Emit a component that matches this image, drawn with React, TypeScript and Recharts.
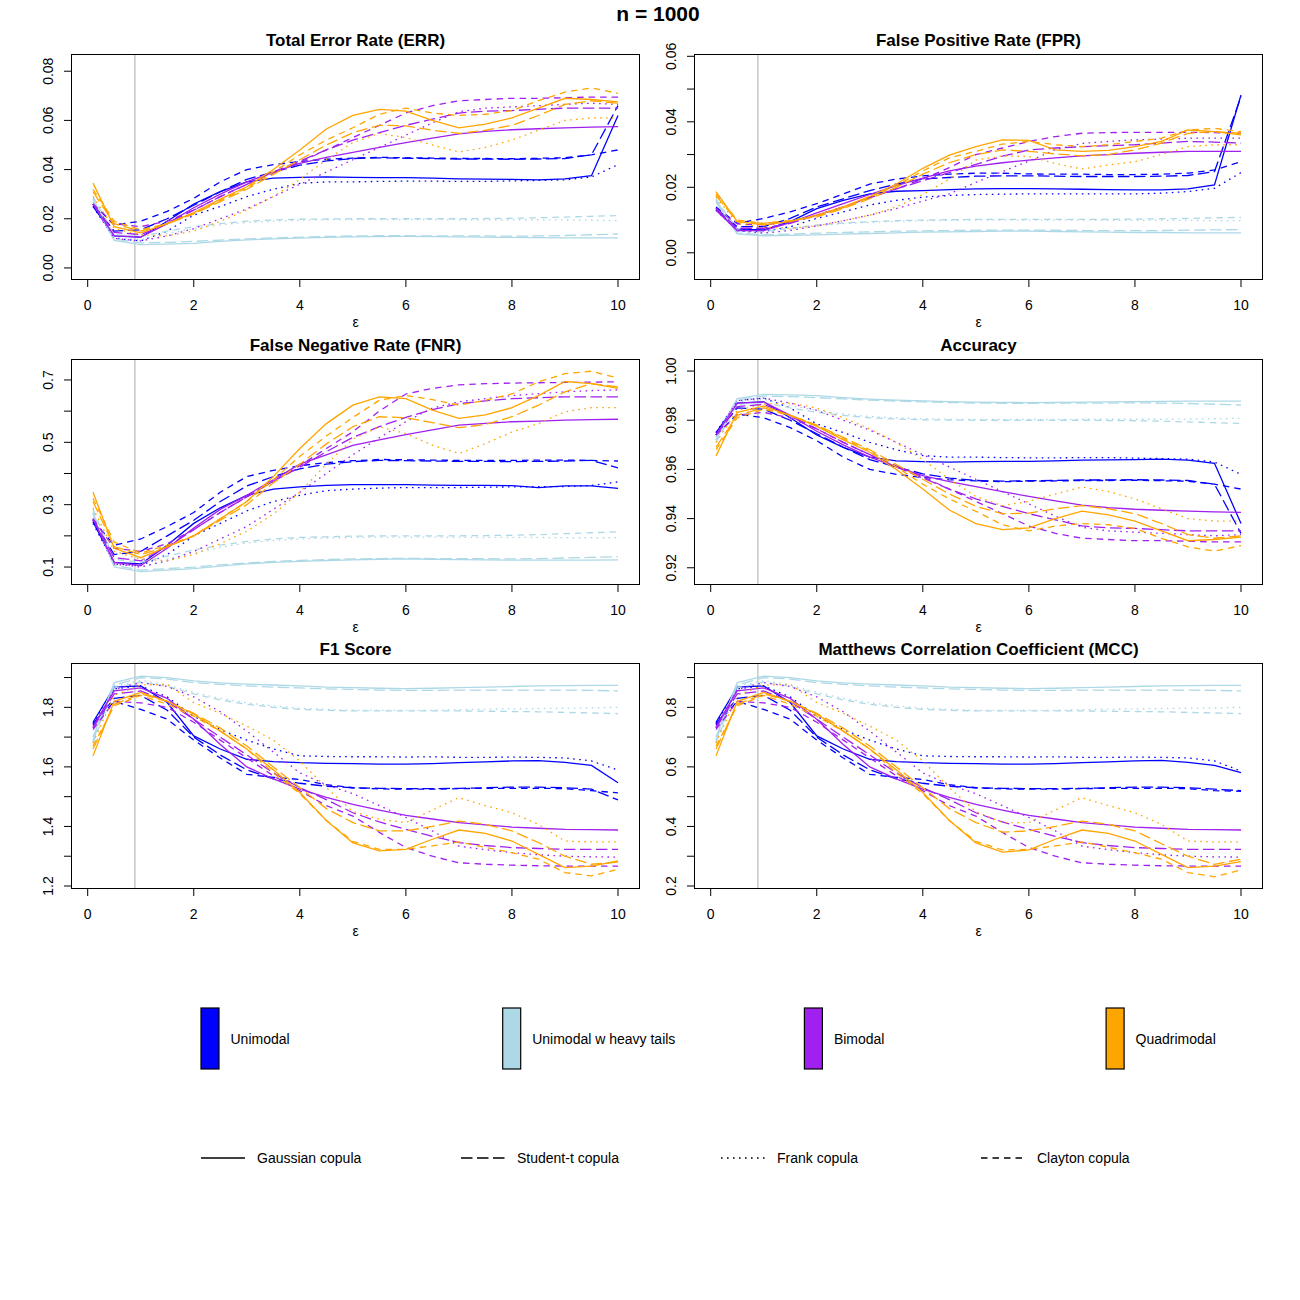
import React from 'react';
import { LineChart, Line, XAxis, YAxis, ReferenceLine } from 'recharts';

const FONT = "'Liberation Sans', Arial, Helvetica, sans-serif";

// ε grid
const EPS = [0.1, 0.5, 1, 1.5, 2, 2.5, 3, 3.5, 4, 4.5, 5, 5.5, 6, 6.5, 7, 7.5, 8, 8.5, 9, 9.5, 10];
const X_TICKS = [0, 2, 4, 6, 8, 10];
const EPS_MARK = 0.89;

const SCENARIOS = ['Unimodal', 'Unimodal w heavy tails', 'Bimodal', 'Quadrimodal'];
const SCENARIO_COLORS = ['#0000FF', '#ADD8E6', '#A020F0', '#FFA500'];
const COPULAS = ['Gaussian copula', 'Student-t copula', 'Frank copula', 'Clayton copula'];
const COPULA_DASH = ['0', '11.5 4.5', '1.6 4.4', '6.5 5'];

// ---------- Total Error Rate ----------
const ERR_U_GA = [0.025, 0.013, 0.0125, 0.019, 0.026, 0.031, 0.035, 0.0365, 0.0368, 0.037, 0.0368, 0.0367, 0.0367, 0.0365, 0.0362, 0.0361, 0.036, 0.0358, 0.0362, 0.0375, 0.062];
const ERR_U_ST = [0.026, 0.015, 0.0155, 0.02, 0.0255, 0.031, 0.036, 0.039, 0.0418, 0.0435, 0.0445, 0.0448, 0.0446, 0.0445, 0.0443, 0.0443, 0.0442, 0.0443, 0.0445, 0.046, 0.066];
const ERR_U_FR = [0.025, 0.012, 0.011, 0.015, 0.0215, 0.025, 0.029, 0.032, 0.0344, 0.035, 0.035, 0.0352, 0.0353, 0.0353, 0.0352, 0.0352, 0.0354, 0.0356, 0.0358, 0.037, 0.042];
const ERR_U_CL = [0.026, 0.0175, 0.019, 0.023, 0.0283, 0.035, 0.04, 0.042, 0.0433, 0.0442, 0.0447, 0.045, 0.0448, 0.0447, 0.0445, 0.0445, 0.0444, 0.0446, 0.0448, 0.046, 0.048];
const ERR_H_GA = [0.027, 0.0112, 0.0095, 0.0097, 0.01, 0.0108, 0.0114, 0.0118, 0.0121, 0.0124, 0.0126, 0.0127, 0.0128, 0.0127, 0.0126, 0.0125, 0.0124, 0.0123, 0.0122, 0.0122, 0.0122];
const ERR_H_ST = [0.028, 0.0118, 0.0102, 0.0104, 0.0108, 0.0113, 0.0118, 0.0122, 0.0125, 0.0128, 0.013, 0.0131, 0.0131, 0.013, 0.013, 0.013, 0.0129, 0.013, 0.0132, 0.0135, 0.0138];
const ERR_H_FR = [0.028, 0.0125, 0.0115, 0.014, 0.016, 0.0175, 0.0185, 0.019, 0.0194, 0.0196, 0.0197, 0.0197, 0.0197, 0.0197, 0.0196, 0.0196, 0.0196, 0.0196, 0.0195, 0.0194, 0.0192];
const ERR_H_CL = [0.029, 0.0135, 0.0128, 0.015, 0.0168, 0.018, 0.019, 0.0195, 0.0198, 0.0199, 0.02, 0.02, 0.02, 0.02, 0.02, 0.0201, 0.0202, 0.0204, 0.0207, 0.021, 0.0213];
const ERR_B_GA = [0.026, 0.013, 0.0125, 0.018, 0.0245, 0.03, 0.035, 0.039, 0.0425, 0.045, 0.047, 0.049, 0.051, 0.0528, 0.0545, 0.0555, 0.0562, 0.0566, 0.057, 0.0573, 0.0575];
const ERR_B_ST = [0.026, 0.0145, 0.0135, 0.018, 0.0235, 0.029, 0.034, 0.039, 0.0435, 0.048, 0.052, 0.055, 0.058, 0.0605, 0.063, 0.0638, 0.064, 0.0645, 0.065, 0.065, 0.065];
const ERR_B_FR = [0.026, 0.012, 0.011, 0.013, 0.016, 0.02, 0.024, 0.029, 0.034, 0.039, 0.044, 0.049, 0.054, 0.059, 0.0635, 0.065, 0.0655, 0.066, 0.0665, 0.067, 0.0665];
const ERR_B_CL = [0.026, 0.018, 0.0168, 0.019, 0.0235, 0.029, 0.034, 0.0385, 0.043, 0.048, 0.053, 0.058, 0.063, 0.066, 0.068, 0.0685, 0.069, 0.069, 0.0692, 0.0695, 0.0695];
const ERR_Q_GA = [0.0345, 0.0168, 0.0143, 0.018, 0.0225, 0.028, 0.033, 0.04, 0.048, 0.0565, 0.062, 0.0645, 0.0638, 0.06, 0.057, 0.0585, 0.061, 0.065, 0.069, 0.0685, 0.0675];
const ERR_Q_ST = [0.031, 0.018, 0.015, 0.018, 0.022, 0.027, 0.032, 0.038, 0.044, 0.05, 0.055, 0.058, 0.0578, 0.056, 0.0547, 0.056, 0.058, 0.062, 0.0665, 0.068, 0.067];
const ERR_Q_FR = [0.029, 0.016, 0.0135, 0.013, 0.015, 0.019, 0.0235, 0.029, 0.036, 0.044, 0.051, 0.0547, 0.053, 0.05, 0.0472, 0.049, 0.052, 0.056, 0.06, 0.061, 0.061];
const ERR_Q_CL = [0.032, 0.019, 0.0155, 0.018, 0.022, 0.0275, 0.0325, 0.039, 0.046, 0.052, 0.057, 0.0625, 0.065, 0.063, 0.062, 0.0625, 0.064, 0.068, 0.0715, 0.0732, 0.071];

// ---------- False Positive Rate ----------
const FPR_U_GA = [0.0135, 0.0072, 0.007, 0.0095, 0.0135, 0.016, 0.018, 0.0188, 0.019, 0.0193, 0.0195, 0.0196, 0.0196, 0.0195, 0.0194, 0.0193, 0.0192, 0.0192, 0.0195, 0.0207, 0.0482];
const FPR_U_ST = [0.0135, 0.008, 0.008, 0.0105, 0.014, 0.0165, 0.019, 0.021, 0.0225, 0.023, 0.0234, 0.0235, 0.0235, 0.0234, 0.0233, 0.0233, 0.0233, 0.0234, 0.0236, 0.0248, 0.0477];
const FPR_U_FR = [0.013, 0.0068, 0.0065, 0.008, 0.0105, 0.0125, 0.0146, 0.016, 0.017, 0.0175, 0.0178, 0.0179, 0.018, 0.018, 0.018, 0.018, 0.018, 0.0182, 0.0187, 0.0197, 0.0245];
const FPR_U_CL = [0.014, 0.009, 0.0105, 0.0125, 0.015, 0.018, 0.021, 0.0225, 0.0235, 0.024, 0.0243, 0.0243, 0.0241, 0.024, 0.024, 0.0239, 0.0239, 0.024, 0.0243, 0.0253, 0.0278];
const FPR_H_GA = [0.0155, 0.0058, 0.0052, 0.0053, 0.0055, 0.0057, 0.0059, 0.0061, 0.0063, 0.0064, 0.0065, 0.0066, 0.0066, 0.0065, 0.0064, 0.0063, 0.0062, 0.0062, 0.0061, 0.0061, 0.0061];
const FPR_H_ST = [0.016, 0.006, 0.0055, 0.0057, 0.006, 0.0062, 0.0064, 0.0066, 0.0067, 0.0068, 0.0069, 0.0069, 0.0069, 0.0069, 0.0068, 0.0068, 0.0068, 0.0068, 0.0069, 0.007, 0.0071];
const FPR_H_FR = [0.016, 0.0065, 0.006, 0.0072, 0.0082, 0.0089, 0.0093, 0.0096, 0.0098, 0.0099, 0.01, 0.01, 0.01, 0.01, 0.01, 0.0099, 0.0099, 0.0099, 0.0099, 0.0098, 0.0098];
const FPR_H_CL = [0.0165, 0.007, 0.0065, 0.0075, 0.0085, 0.0091, 0.0095, 0.0098, 0.01, 0.0101, 0.0102, 0.0102, 0.0102, 0.0102, 0.0102, 0.0102, 0.0103, 0.0104, 0.0105, 0.0107, 0.0108];
const FPR_B_GA = [0.013, 0.0068, 0.0068, 0.0092, 0.0122, 0.015, 0.0178, 0.0205, 0.0228, 0.025, 0.0265, 0.0275, 0.0283, 0.029, 0.0296, 0.03, 0.0304, 0.0307, 0.031, 0.031, 0.031];
const FPR_B_ST = [0.0135, 0.0075, 0.0075, 0.009, 0.0115, 0.014, 0.0168, 0.0195, 0.022, 0.0245, 0.027, 0.0295, 0.0314, 0.032, 0.0324, 0.0327, 0.033, 0.0335, 0.034, 0.0338, 0.0335];
const FPR_B_FR = [0.0135, 0.0068, 0.006, 0.0068, 0.0082, 0.0098, 0.0115, 0.0135, 0.0158, 0.018, 0.0215, 0.0248, 0.028, 0.0315, 0.0334, 0.034, 0.0345, 0.0347, 0.035, 0.035, 0.035];
const FPR_B_CL = [0.0135, 0.0088, 0.0085, 0.0095, 0.0115, 0.014, 0.017, 0.0195, 0.0225, 0.026, 0.03, 0.032, 0.034, 0.0355, 0.0365, 0.0367, 0.0368, 0.0368, 0.0368, 0.0367, 0.0365];
const FPR_Q_GA = [0.0187, 0.0095, 0.0085, 0.0095, 0.0115, 0.014, 0.0172, 0.021, 0.0258, 0.0298, 0.0324, 0.0345, 0.0343, 0.0314, 0.031, 0.0313, 0.0324, 0.034, 0.0375, 0.037, 0.036];
const FPR_Q_ST = [0.0175, 0.0095, 0.009, 0.0098, 0.011, 0.0135, 0.0165, 0.02, 0.024, 0.0275, 0.03, 0.0314, 0.031, 0.0302, 0.0296, 0.03, 0.0314, 0.0335, 0.0365, 0.037, 0.0365];
const FPR_Q_FR = [0.017, 0.009, 0.0078, 0.0075, 0.0082, 0.0098, 0.0115, 0.014, 0.0178, 0.0225, 0.0283, 0.0296, 0.0294, 0.0273, 0.0256, 0.0268, 0.0278, 0.03, 0.0324, 0.033, 0.033];
const FPR_Q_CL = [0.018, 0.01, 0.009, 0.0098, 0.0112, 0.0138, 0.017, 0.0205, 0.025, 0.029, 0.031, 0.0332, 0.034, 0.033, 0.0324, 0.033, 0.034, 0.035, 0.0375, 0.038, 0.037];

// ---------- False Negative Rate ----------
const FNR_U_GA = [0.245, 0.115, 0.11, 0.17, 0.24, 0.29, 0.33, 0.35, 0.357, 0.362, 0.364, 0.364, 0.364, 0.363, 0.362, 0.362, 0.361, 0.355, 0.36, 0.36, 0.352];
const FNR_U_ST = [0.25, 0.14, 0.15, 0.2, 0.25, 0.31, 0.36, 0.39, 0.415, 0.43, 0.438, 0.442, 0.441, 0.44, 0.439, 0.439, 0.438, 0.439, 0.44, 0.442, 0.418];
const FNR_U_FR = [0.24, 0.11, 0.105, 0.14, 0.2, 0.24, 0.28, 0.31, 0.33, 0.345, 0.35, 0.353, 0.355, 0.355, 0.355, 0.356, 0.357, 0.358, 0.358, 0.362, 0.373];
const FNR_U_CL = [0.25, 0.17, 0.19, 0.23, 0.275, 0.34, 0.39, 0.41, 0.425, 0.435, 0.441, 0.445, 0.444, 0.443, 0.442, 0.442, 0.442, 0.443, 0.443, 0.442, 0.44];
const FNR_H_GA = [0.27, 0.1, 0.085, 0.09, 0.095, 0.103, 0.11, 0.115, 0.118, 0.121, 0.123, 0.125, 0.126, 0.125, 0.124, 0.123, 0.122, 0.122, 0.122, 0.122, 0.123];
const FNR_H_ST = [0.275, 0.105, 0.09, 0.095, 0.1, 0.107, 0.113, 0.118, 0.121, 0.124, 0.126, 0.127, 0.128, 0.127, 0.127, 0.127, 0.126, 0.127, 0.129, 0.131, 0.133];
const FNR_H_FR = [0.275, 0.115, 0.1, 0.125, 0.145, 0.163, 0.177, 0.185, 0.19, 0.193, 0.195, 0.196, 0.196, 0.196, 0.195, 0.195, 0.195, 0.195, 0.194, 0.194, 0.194];
const FNR_H_CL = [0.285, 0.125, 0.115, 0.135, 0.155, 0.17, 0.182, 0.19, 0.195, 0.197, 0.199, 0.2, 0.2, 0.2, 0.2, 0.201, 0.202, 0.204, 0.207, 0.21, 0.213];
const FNR_B_GA = [0.255, 0.115, 0.105, 0.16, 0.225, 0.285, 0.33, 0.38, 0.43, 0.46, 0.49, 0.508, 0.525, 0.54, 0.555, 0.561, 0.566, 0.568, 0.571, 0.573, 0.574];
const FNR_B_ST = [0.255, 0.13, 0.12, 0.165, 0.22, 0.275, 0.325, 0.375, 0.42, 0.47, 0.516, 0.55, 0.58, 0.605, 0.624, 0.633, 0.64, 0.643, 0.646, 0.646, 0.646];
const FNR_B_FR = [0.25, 0.11, 0.1, 0.12, 0.15, 0.19, 0.23, 0.285, 0.34, 0.4, 0.46, 0.515, 0.566, 0.61, 0.63, 0.64, 0.65, 0.656, 0.662, 0.666, 0.668];
const FNR_B_CL = [0.255, 0.16, 0.15, 0.175, 0.22, 0.275, 0.325, 0.375, 0.425, 0.48, 0.534, 0.6, 0.655, 0.673, 0.684, 0.688, 0.69, 0.691, 0.692, 0.693, 0.694];
const FNR_Q_GA = [0.34, 0.16, 0.13, 0.165, 0.2, 0.255, 0.31, 0.39, 0.48, 0.56, 0.619, 0.646, 0.64, 0.603, 0.577, 0.588, 0.611, 0.65, 0.695, 0.688, 0.673];
const FNR_Q_ST = [0.31, 0.165, 0.14, 0.165, 0.2, 0.25, 0.3, 0.37, 0.43, 0.495, 0.55, 0.582, 0.579, 0.563, 0.547, 0.557, 0.582, 0.619, 0.662, 0.688, 0.678];
const FNR_Q_FR = [0.29, 0.15, 0.125, 0.12, 0.14, 0.175, 0.215, 0.27, 0.34, 0.43, 0.51, 0.55, 0.528, 0.491, 0.464, 0.496, 0.533, 0.56, 0.598, 0.611, 0.611];
const FNR_Q_CL = [0.32, 0.18, 0.145, 0.17, 0.2, 0.255, 0.31, 0.38, 0.455, 0.52, 0.58, 0.635, 0.65, 0.637, 0.619, 0.635, 0.655, 0.694, 0.72, 0.728, 0.706];

// ---------- Accuracy ----------
const ACC_U_GA = [0.975, 0.987, 0.9875, 0.981, 0.974, 0.969, 0.965, 0.9635, 0.9632, 0.963, 0.9632, 0.9633, 0.9633, 0.9635, 0.9638, 0.9639, 0.964, 0.9642, 0.9638, 0.9625, 0.938];
const ACC_U_ST = [0.974, 0.985, 0.9845, 0.98, 0.9745, 0.969, 0.964, 0.961, 0.9582, 0.9565, 0.9555, 0.9552, 0.9554, 0.9555, 0.9557, 0.9557, 0.9558, 0.9557, 0.9555, 0.954, 0.934];
const ACC_U_FR = [0.975, 0.988, 0.989, 0.985, 0.9785, 0.975, 0.971, 0.968, 0.9656, 0.965, 0.965, 0.9648, 0.9647, 0.9647, 0.9648, 0.9648, 0.9646, 0.9644, 0.9642, 0.963, 0.958];
const ACC_U_CL = [0.974, 0.9825, 0.981, 0.977, 0.9717, 0.965, 0.96, 0.958, 0.9567, 0.9558, 0.9553, 0.955, 0.9552, 0.9553, 0.9555, 0.9555, 0.9556, 0.9554, 0.9552, 0.954, 0.952];
const ACC_H_GA = [0.973, 0.9888, 0.9905, 0.9903, 0.99, 0.9892, 0.9886, 0.9882, 0.9879, 0.9876, 0.9874, 0.9873, 0.9872, 0.9873, 0.9874, 0.9875, 0.9876, 0.9877, 0.9878, 0.9878, 0.9878];
const ACC_H_ST = [0.972, 0.9882, 0.9898, 0.9896, 0.9892, 0.9887, 0.9882, 0.9878, 0.9875, 0.9872, 0.987, 0.9869, 0.9869, 0.987, 0.987, 0.987, 0.9871, 0.987, 0.9868, 0.9865, 0.9862];
const ACC_H_FR = [0.972, 0.9875, 0.9885, 0.986, 0.984, 0.9825, 0.9815, 0.981, 0.9806, 0.9804, 0.9803, 0.9803, 0.9803, 0.9803, 0.9804, 0.9804, 0.9804, 0.9804, 0.9805, 0.9806, 0.9808];
const ACC_H_CL = [0.971, 0.9865, 0.9872, 0.985, 0.9832, 0.982, 0.981, 0.9805, 0.9802, 0.9801, 0.98, 0.98, 0.98, 0.98, 0.98, 0.9799, 0.9798, 0.9796, 0.9793, 0.979, 0.9787];
const ACC_B_GA = [0.974, 0.987, 0.9875, 0.982, 0.9755, 0.97, 0.965, 0.961, 0.9575, 0.955, 0.953, 0.951, 0.949, 0.9472, 0.9455, 0.9445, 0.9438, 0.9434, 0.943, 0.9427, 0.9425];
const ACC_B_ST = [0.974, 0.9855, 0.9865, 0.982, 0.9765, 0.971, 0.966, 0.961, 0.9565, 0.952, 0.948, 0.945, 0.942, 0.9395, 0.937, 0.9362, 0.936, 0.9355, 0.935, 0.935, 0.935];
const ACC_B_FR = [0.974, 0.988, 0.989, 0.987, 0.984, 0.98, 0.976, 0.971, 0.966, 0.961, 0.956, 0.951, 0.946, 0.941, 0.9365, 0.935, 0.9345, 0.934, 0.9335, 0.933, 0.9335];
const ACC_B_CL = [0.974, 0.982, 0.9832, 0.981, 0.9765, 0.971, 0.966, 0.9615, 0.957, 0.952, 0.947, 0.942, 0.937, 0.934, 0.932, 0.9315, 0.931, 0.931, 0.9308, 0.9305, 0.9305];
const ACC_Q_GA = [0.9655, 0.9832, 0.9857, 0.982, 0.9775, 0.972, 0.967, 0.96, 0.952, 0.9435, 0.938, 0.9355, 0.9362, 0.94, 0.943, 0.9415, 0.939, 0.935, 0.931, 0.9315, 0.9325];
const ACC_Q_ST = [0.969, 0.982, 0.985, 0.982, 0.978, 0.973, 0.968, 0.962, 0.956, 0.95, 0.945, 0.942, 0.9422, 0.944, 0.9453, 0.944, 0.942, 0.938, 0.9335, 0.932, 0.933];
const ACC_Q_FR = [0.971, 0.984, 0.9865, 0.987, 0.985, 0.981, 0.9765, 0.971, 0.964, 0.956, 0.949, 0.9453, 0.947, 0.95, 0.9528, 0.951, 0.948, 0.944, 0.94, 0.939, 0.939];
const ACC_Q_CL = [0.968, 0.981, 0.9845, 0.982, 0.978, 0.9725, 0.9675, 0.961, 0.954, 0.948, 0.943, 0.9375, 0.935, 0.937, 0.938, 0.9375, 0.936, 0.932, 0.9285, 0.9268, 0.929];

// ---------- F1 Score ----------
const F1_U_GA = [1.75, 1.868, 1.872, 1.816, 1.704, 1.66, 1.625, 1.618, 1.614, 1.612, 1.611, 1.609, 1.609, 1.611, 1.614, 1.617, 1.62, 1.621, 1.615, 1.605, 1.547];
const F1_U_ST = [1.745, 1.83, 1.84, 1.79, 1.7, 1.64, 1.59, 1.56, 1.545, 1.535, 1.53, 1.528, 1.527, 1.527, 1.528, 1.53, 1.532, 1.532, 1.53, 1.525, 1.489];
const F1_U_FR = [1.745, 1.862, 1.872, 1.835, 1.77, 1.725, 1.69, 1.66, 1.637, 1.635, 1.634, 1.634, 1.633, 1.634, 1.632, 1.632, 1.633, 1.632, 1.63, 1.62, 1.589];
const F1_U_CL = [1.74, 1.82, 1.793, 1.76, 1.69, 1.63, 1.575, 1.565, 1.558, 1.54, 1.53, 1.526, 1.525, 1.525, 1.527, 1.528, 1.528, 1.528, 1.527, 1.52, 1.513];
const F1_H_GA = [1.7, 1.883, 1.905, 1.9, 1.889, 1.882, 1.878, 1.875, 1.872, 1.868, 1.866, 1.864, 1.863, 1.864, 1.866, 1.868, 1.87, 1.872, 1.873, 1.874, 1.874];
const F1_H_ST = [1.69, 1.875, 1.9, 1.895, 1.883, 1.877, 1.872, 1.868, 1.865, 1.862, 1.86, 1.858, 1.857, 1.857, 1.858, 1.858, 1.858, 1.858, 1.858, 1.857, 1.855];
const F1_H_FR = [1.685, 1.87, 1.89, 1.875, 1.85, 1.83, 1.815, 1.805, 1.797, 1.793, 1.79, 1.79, 1.79, 1.79, 1.792, 1.794, 1.795, 1.796, 1.797, 1.798, 1.8];
const F1_H_CL = [1.68, 1.865, 1.885, 1.87, 1.845, 1.825, 1.81, 1.8, 1.793, 1.79, 1.788, 1.788, 1.788, 1.788, 1.788, 1.787, 1.786, 1.785, 1.783, 1.781, 1.779];
const F1_B_GA = [1.735, 1.855, 1.865, 1.83, 1.76, 1.675, 1.6, 1.56, 1.525, 1.498, 1.474, 1.455, 1.437, 1.425, 1.413, 1.405, 1.398, 1.394, 1.39, 1.389, 1.388];
const F1_B_ST = [1.73, 1.845, 1.855, 1.82, 1.76, 1.7, 1.64, 1.58, 1.53, 1.49, 1.446, 1.415, 1.39, 1.367, 1.346, 1.336, 1.329, 1.326, 1.323, 1.323, 1.323];
const F1_B_FR = [1.73, 1.86, 1.883, 1.87, 1.835, 1.785, 1.72, 1.65, 1.58, 1.54, 1.51, 1.47, 1.43, 1.385, 1.334, 1.322, 1.312, 1.305, 1.3, 1.298, 1.297];
const F1_B_CL = [1.725, 1.82, 1.815, 1.8, 1.75, 1.69, 1.63, 1.57, 1.52, 1.47, 1.435, 1.38, 1.329, 1.3, 1.278, 1.273, 1.27, 1.268, 1.267, 1.267, 1.267];
const F1_Q_GA = [1.637, 1.82, 1.85, 1.82, 1.777, 1.72, 1.66, 1.59, 1.514, 1.42, 1.345, 1.318, 1.323, 1.357, 1.388, 1.377, 1.351, 1.306, 1.262, 1.267, 1.284];
const F1_Q_ST = [1.66, 1.81, 1.845, 1.82, 1.78, 1.73, 1.67, 1.6, 1.53, 1.46, 1.413, 1.385, 1.385, 1.4, 1.418, 1.407, 1.385, 1.346, 1.3, 1.273, 1.28];
const F1_Q_FR = [1.68, 1.84, 1.875, 1.877, 1.816, 1.78, 1.737, 1.69, 1.62, 1.53, 1.45, 1.424, 1.413, 1.455, 1.497, 1.47, 1.446, 1.407, 1.351, 1.348, 1.348];
const F1_Q_CL = [1.67, 1.805, 1.84, 1.81, 1.77, 1.72, 1.66, 1.58, 1.51, 1.42, 1.35, 1.323, 1.323, 1.335, 1.348, 1.33, 1.312, 1.29, 1.245, 1.234, 1.256];

// ---------- Matthews Correlation Coefficient ----------
const MCC_U_GA = [0.75, 0.868, 0.872, 0.816, 0.704, 0.66, 0.625, 0.618, 0.614, 0.612, 0.611, 0.609, 0.609, 0.611, 0.614, 0.617, 0.62, 0.622, 0.615, 0.605, 0.581];
const MCC_U_ST = [0.745, 0.83, 0.84, 0.79, 0.7, 0.64, 0.59, 0.56, 0.545, 0.535, 0.53, 0.528, 0.527, 0.527, 0.528, 0.53, 0.532, 0.532, 0.53, 0.525, 0.52];
const MCC_U_FR = [0.745, 0.862, 0.872, 0.835, 0.77, 0.725, 0.69, 0.66, 0.637, 0.635, 0.634, 0.634, 0.633, 0.634, 0.632, 0.632, 0.633, 0.632, 0.63, 0.62, 0.586];
const MCC_U_CL = [0.74, 0.82, 0.793, 0.76, 0.69, 0.63, 0.575, 0.565, 0.558, 0.54, 0.53, 0.526, 0.525, 0.525, 0.527, 0.528, 0.528, 0.528, 0.527, 0.52, 0.518];
const MCC_H_GA = [0.7, 0.883, 0.905, 0.9, 0.889, 0.882, 0.878, 0.875, 0.872, 0.868, 0.866, 0.864, 0.863, 0.864, 0.866, 0.868, 0.87, 0.872, 0.873, 0.874, 0.874];
const MCC_H_ST = [0.69, 0.875, 0.9, 0.895, 0.883, 0.877, 0.872, 0.868, 0.865, 0.862, 0.86, 0.858, 0.857, 0.857, 0.858, 0.858, 0.858, 0.858, 0.858, 0.857, 0.855];
const MCC_H_FR = [0.685, 0.87, 0.89, 0.875, 0.85, 0.83, 0.815, 0.805, 0.797, 0.793, 0.79, 0.79, 0.79, 0.79, 0.792, 0.794, 0.795, 0.796, 0.797, 0.798, 0.8];
const MCC_H_CL = [0.68, 0.865, 0.885, 0.87, 0.845, 0.825, 0.81, 0.8, 0.793, 0.79, 0.788, 0.788, 0.788, 0.788, 0.788, 0.787, 0.786, 0.785, 0.783, 0.781, 0.779];
const MCC_B_GA = [0.735, 0.855, 0.865, 0.83, 0.76, 0.675, 0.6, 0.56, 0.525, 0.498, 0.474, 0.455, 0.437, 0.425, 0.413, 0.405, 0.398, 0.394, 0.39, 0.389, 0.388];
const MCC_B_ST = [0.73, 0.845, 0.855, 0.82, 0.76, 0.7, 0.64, 0.58, 0.53, 0.49, 0.446, 0.415, 0.39, 0.367, 0.346, 0.336, 0.329, 0.326, 0.323, 0.323, 0.323];
const MCC_B_FR = [0.73, 0.86, 0.883, 0.87, 0.835, 0.785, 0.72, 0.65, 0.58, 0.54, 0.51, 0.47, 0.43, 0.385, 0.334, 0.322, 0.312, 0.305, 0.3, 0.298, 0.297];
const MCC_B_CL = [0.725, 0.82, 0.815, 0.8, 0.75, 0.69, 0.63, 0.57, 0.52, 0.47, 0.435, 0.38, 0.329, 0.3, 0.278, 0.273, 0.27, 0.268, 0.267, 0.267, 0.267];
const MCC_Q_GA = [0.637, 0.82, 0.85, 0.82, 0.777, 0.72, 0.66, 0.59, 0.514, 0.42, 0.345, 0.314, 0.321, 0.357, 0.388, 0.377, 0.351, 0.306, 0.262, 0.267, 0.282];
const MCC_Q_ST = [0.66, 0.81, 0.845, 0.82, 0.78, 0.73, 0.67, 0.6, 0.53, 0.46, 0.413, 0.381, 0.385, 0.4, 0.418, 0.407, 0.385, 0.342, 0.3, 0.273, 0.29];
const MCC_Q_FR = [0.68, 0.84, 0.875, 0.877, 0.816, 0.78, 0.737, 0.69, 0.62, 0.53, 0.45, 0.413, 0.413, 0.455, 0.497, 0.47, 0.446, 0.407, 0.351, 0.348, 0.348];
const MCC_Q_CL = [0.67, 0.805, 0.84, 0.81, 0.77, 0.72, 0.66, 0.58, 0.51, 0.42, 0.35, 0.321, 0.323, 0.335, 0.348, 0.33, 0.312, 0.29, 0.245, 0.231, 0.254];

// ---------- axis ticks ----------
const ERR_TICKS = [0, 0.02, 0.04, 0.06, 0.08];
const FPR_TICKS = [0, 0.01, 0.02, 0.03, 0.04, 0.05, 0.06];
const FPR_LABELS = [0, 0.02, 0.04, 0.06];
const FNR_TICKS = [0.1, 0.2, 0.3, 0.4, 0.5, 0.6, 0.7];
const FNR_LABELS = [0.1, 0.3, 0.5, 0.7];
const ACC_TICKS = [0.92, 0.94, 0.96, 0.98, 1.0];
const F1_TICKS = [1.2, 1.3, 1.4, 1.5, 1.6, 1.7, 1.8, 1.9];
const F1_LABELS = [1.2, 1.4, 1.6, 1.8];
const MCC_TICKS = [0.2, 0.3, 0.4, 0.5, 0.6, 0.7, 0.8, 0.9];
const MCC_LABELS = [0.2, 0.4, 0.6, 0.8];

const BOX_W = 567;
const BOX_H = 224;
const ML = 60;
const MT = 30;
const MR = 20;
const MB = 50;

type PanelDef = {
  title: string;
  left: number;
  top: number;
  series: number[][][];
  domain: [number, number];
  ticks: number[];
  labels: number[];
  dec: number;
};

const PANELS: PanelDef[] = [
  {
    title: 'Total Error Rate (ERR)', left: 72, top: 55,
    series: [[ERR_U_GA, ERR_U_ST, ERR_U_FR, ERR_U_CL], [ERR_H_GA, ERR_H_ST, ERR_H_FR, ERR_H_CL], [ERR_B_GA, ERR_B_ST, ERR_B_FR, ERR_B_CL], [ERR_Q_GA, ERR_Q_ST, ERR_Q_FR, ERR_Q_CL]],
    domain: [-0.0045, 0.0866], ticks: ERR_TICKS, labels: ERR_TICKS, dec: 2,
  },
  {
    title: 'False Positive Rate (FPR)', left: 695, top: 55,
    series: [[FPR_U_GA, FPR_U_ST, FPR_U_FR, FPR_U_CL], [FPR_H_GA, FPR_H_ST, FPR_H_FR, FPR_H_CL], [FPR_B_GA, FPR_B_ST, FPR_B_FR, FPR_B_CL], [FPR_Q_GA, FPR_Q_ST, FPR_Q_FR, FPR_Q_CL]],
    domain: [-0.008, 0.0604], ticks: FPR_TICKS, labels: FPR_LABELS, dec: 2,
  },
  {
    title: 'False Negative Rate (FNR)', left: 72, top: 360,
    series: [[FNR_U_GA, FNR_U_ST, FNR_U_FR, FNR_U_CL], [FNR_H_GA, FNR_H_ST, FNR_H_FR, FNR_H_CL], [FNR_B_GA, FNR_B_ST, FNR_B_FR, FNR_B_CL], [FNR_Q_GA, FNR_Q_ST, FNR_Q_FR, FNR_Q_CL]],
    domain: [0.0456, 0.764], ticks: FNR_TICKS, labels: FNR_LABELS, dec: 1,
  },
  {
    title: 'Accuracy', left: 695, top: 360,
    series: [[ACC_U_GA, ACC_U_ST, ACC_U_FR, ACC_U_CL], [ACC_H_GA, ACC_H_ST, ACC_H_FR, ACC_H_CL], [ACC_B_GA, ACC_B_ST, ACC_B_FR, ACC_B_CL], [ACC_Q_GA, ACC_Q_ST, ACC_Q_FR, ACC_Q_CL]],
    domain: [0.9134, 1.0045], ticks: ACC_TICKS, labels: ACC_TICKS, dec: 2,
  },
  {
    title: 'F1 Score', left: 72, top: 664,
    series: [[F1_U_GA, F1_U_ST, F1_U_FR, F1_U_CL], [F1_H_GA, F1_H_ST, F1_H_FR, F1_H_CL], [F1_B_GA, F1_B_ST, F1_B_FR, F1_B_CL], [F1_Q_GA, F1_Q_ST, F1_Q_FR, F1_Q_CL]],
    domain: [1.1933, 1.9455], ticks: F1_TICKS, labels: F1_LABELS, dec: 1,
  },
  {
    title: 'Matthews Correlation Coefficient (MCC)', left: 695, top: 664,
    series: [[MCC_U_GA, MCC_U_ST, MCC_U_FR, MCC_U_CL], [MCC_H_GA, MCC_H_ST, MCC_H_FR, MCC_H_CL], [MCC_B_GA, MCC_B_ST, MCC_B_FR, MCC_B_CL], [MCC_Q_GA, MCC_Q_ST, MCC_Q_FR, MCC_Q_CL]],
    domain: [0.1933, 0.9455], ticks: MCC_TICKS, labels: MCC_LABELS, dec: 1,
  },
];

const makeYTick = (labels: number[], dec: number) => (props: any) => {
  const { y, payload } = props;
  const v = payload.value as number;
  const show = labels.some((l) => Math.abs(l - v) < 1e-9);
  if (!show) return <g />;
  const bx = ML - 19;
  return (
    <text x={bx} y={y} transform={`rotate(-90, ${bx}, ${y})`} textAnchor="middle" fontSize={14} fontFamily={FONT} fill="#000">
      {v.toFixed(dec)}
    </text>
  );
};

const XTick = (props: any) => {
  const { x, payload } = props;
  return (
    <text x={x} y={MT + BOX_H + 31} textAnchor="middle" fontSize={14} fontFamily={FONT} fill="#000">
      {payload.value}
    </text>
  );
};

function Panel({ def }: { def: PanelDef }) {
  const W = ML + BOX_W + MR;
  const H = MT + BOX_H + MB;
  const rows = EPS.map((e, i) => {
    const r: Record<string, number> = { eps: e };
    def.series.forEach((grp, c) => grp.forEach((arr, k) => { r[`s${c}${k}`] = arr[i]; }));
    return r;
  });
  return (
    <div style={{ position: 'absolute', left: def.left - ML, top: def.top - MT, width: W, height: H }}>
      <LineChart width={W} height={H} data={rows} margin={{ top: MT, right: MR, bottom: 0, left: 0 }}>
        <XAxis
          dataKey="eps" type="number" domain={[-0.296, 10.396]} ticks={X_TICKS} allowDataOverflow
          axisLine={false} tickLine={{ stroke: '#000', strokeWidth: 1 }} tickSize={8} height={MB}
          tick={XTick} interval={0}
        />
        <YAxis
          type="number" domain={def.domain} ticks={def.ticks} allowDataOverflow width={ML}
          axisLine={false} tickLine={{ stroke: '#000', strokeWidth: 1 }} tickSize={8}
          tick={makeYTick(def.labels, def.dec)} interval={0}
        />
        <ReferenceLine x={EPS_MARK} stroke="#BEBEBE" strokeWidth={1.3} />
        {def.series.map((grp, c) =>
          grp.map((_, k) => (
            <Line
              key={`s${c}${k}`}
              type="linear"
              dataKey={`s${c}${k}`}
              name={`${SCENARIOS[c]} / ${COPULAS[k]}`}
              stroke={SCENARIO_COLORS[c]}
              strokeWidth={1.3}
              strokeDasharray={COPULA_DASH[k]}
              dot={false}
              activeDot={false}
              isAnimationActive={false}
            />
          ))
        )}
      </LineChart>
      <div style={{ position: 'absolute', left: ML - 1, top: MT - 1, width: BOX_W + 2, height: BOX_H + 2, border: '1.3px solid #000', boxSizing: 'border-box', pointerEvents: 'none' }} />
      <div style={{ position: 'absolute', left: ML, top: MT - 24, width: BOX_W, textAlign: 'center', fontFamily: FONT, fontWeight: 'bold', fontSize: 17, lineHeight: '20px', color: '#000' }}>
        {def.title}
      </div>
      <div style={{ position: 'absolute', left: ML, top: MT + BOX_H + 33, width: BOX_W, textAlign: 'center', fontFamily: FONT, fontSize: 14, lineHeight: '20px', color: '#000' }}>
        ε
      </div>
    </div>
  );
}

function Legend() {
  return (
    <svg width={1300} height={220} style={{ position: 'absolute', left: 0, top: 990 }}>
      {SCENARIOS.map((s, i) => {
        const x = 201 + i * 301.7;
        return (
          <g key={s}>
            <rect x={x} y={18} width={18} height={61} fill={SCENARIO_COLORS[i]} stroke="#000" strokeWidth={1.2} />
            <text x={x + 29.5} y={54} fontSize={14} fontFamily={FONT} fill="#000">{s}</text>
          </g>
        );
      })}
      {COPULAS.map((c, i) => {
        const x = 201 + i * 260;
        return (
          <g key={c}>
            <line x1={x} x2={x + 44} y1={168} y2={168} stroke="#000" strokeWidth={1.3} strokeDasharray={COPULA_DASH[i]} />
            <text x={x + 56} y={173} fontSize={14} fontFamily={FONT} fill="#000">{c}</text>
          </g>
        );
      })}
    </svg>
  );
}

export default function App() {
  return (
    <div style={{ position: 'absolute', left: 0, top: 0, width: 1300, height: 1300, background: '#fff', fontFamily: FONT }}>
      <div style={{ position: 'absolute', left: 508, top: 3, width: 300, textAlign: 'center', fontWeight: 'bold', fontSize: 21, lineHeight: '22px', color: '#000' }}>
        n = 1000
      </div>
      {PANELS.map((p) => (
        <Panel key={p.title} def={p} />
      ))}
      <Legend />
    </div>
  );
}
